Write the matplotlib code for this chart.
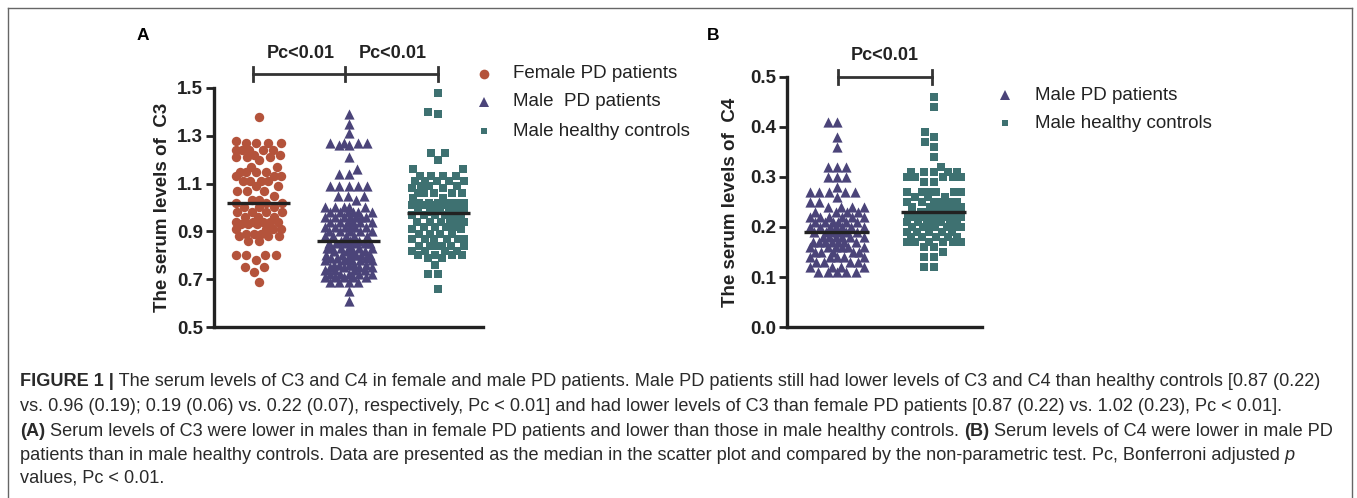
import numpy as np
import matplotlib
matplotlib.use("Agg")
import matplotlib.pyplot as plt
from matplotlib.lines import Line2D

plt.rcParams["font.family"] = ["Liberation Sans", "DejaVu Sans"]

# ── Data (value levels and how many points sit at each) ──
c3_female_lv = [1.38, 1.28, 1.27, 1.24, 1.22, 1.21, 1.20, 1.17, 1.15, 1.13, 1.11, 1.09, 1.07,
                1.05, 1.03, 1.02, 1.00, 0.98, 0.96, 0.94, 0.93, 0.91, 0.89, 0.88, 0.86,
                0.80, 0.78, 0.75, 0.73, 0.69]
c3_female_n  = [1, 1, 4, 5, 2, 3, 1, 2, 4, 3, 4, 2, 3,
                1, 2, 3, 3, 4, 3, 5, 3, 4, 3, 3, 2,
                4, 1, 2, 1, 1]

c3_male_lv = [1.39, 1.35, 1.31, 1.27, 1.26, 1.21, 1.16, 1.14, 1.09, 1.05, 1.03, 1.00, 0.98,
              0.96, 0.94, 0.92, 0.90, 0.88, 0.86, 0.85, 0.83, 0.82, 0.80, 0.79, 0.78,
              0.76, 0.75, 0.74, 0.72, 0.71, 0.69, 0.65, 0.61]
c3_male_n  = [1, 1, 1, 4, 2, 1, 1, 2, 5, 3, 1, 5, 6,
              7, 6, 6, 5, 5, 3, 6, 6, 4, 6, 4, 5,
              5, 4, 4, 5, 5, 4, 1, 1]

c3_ctrl_lv = [1.48, 1.40, 1.39, 1.23, 1.20, 1.16, 1.13, 1.11, 1.09, 1.08, 1.06, 1.04, 1.02,
              1.01, 0.99, 0.98, 0.97, 0.94, 0.92, 0.91, 0.89, 0.87, 0.84, 0.82, 0.80,
              0.79, 0.76, 0.72, 0.66]
c3_ctrl_n  = [1, 1, 1, 2, 1, 2, 4, 5, 3, 2, 5, 2, 6,
              6, 6, 1, 6, 6, 4, 2, 4, 6, 6, 4, 4,
              2, 1, 2, 1]

c4_male_lv = [0.41, 0.38, 0.36, 0.32, 0.30, 0.28, 0.27, 0.26, 0.25, 0.24, 0.23, 0.22, 0.21,
              0.20, 0.19, 0.18, 0.17, 0.16, 0.15, 0.14, 0.13, 0.12, 0.11]
c4_male_n  = [2, 1, 1, 3, 3, 1, 5, 1, 2, 4, 4, 6, 6,
              7, 6, 6, 7, 6, 5, 5, 4, 4, 5]

c4_ctrl_lv = [0.46, 0.44, 0.39, 0.38, 0.37, 0.36, 0.34, 0.32, 0.31, 0.30, 0.29, 0.27, 0.26,
              0.25, 0.24, 0.23, 0.22, 0.21, 0.20, 0.19, 0.18, 0.17, 0.16, 0.15, 0.14, 0.12]
c4_ctrl_n  = [1, 1, 1, 1, 1, 1, 1, 1, 5, 5, 2, 6, 3,
              6, 6, 6, 9, 7, 7, 5, 5, 6, 2, 1, 2, 2]

C_FEMALE = "#b4533b"
C_MALE   = "#4b4479"
C_CTRL   = "#3e7171"
C_LINE   = "#222222"

# name, values, colour, marker, size, gap px, half width px
groups_a = [
    ("Female PD patients",    np.repeat(c3_female_lv, c3_female_n), C_FEMALE, "o", 46, 10.5, 23),
    ("Male  PD patients",     np.repeat(c3_male_lv, c3_male_n),     C_MALE,   "^", 54, 9.5, 24),
    ("Male healthy controls", np.repeat(c3_ctrl_lv, c3_ctrl_n),     C_CTRL,   "s", 26, 10.0, 26),
]
groups_b = [
    ("Male PD patients",      np.repeat(c4_male_lv, c4_male_n),     C_MALE,   "^", 54, 9.5, 27),
    ("Male healthy controls", np.repeat(c4_ctrl_lv, c4_ctrl_n),     C_CTRL,   "s", 26, 10.0, 27),
]


def swarm(vals, ypx, gap, half):
    """Horizontal offsets (px): keep markers `gap` px apart inside +-half px,
    and let them overlap as little as possible where the group is too dense."""
    cand = np.arange(-half, half + 0.01, 0.5)
    order = np.argsort(vals)
    px, py = [], []
    xs = np.zeros(len(vals))
    for i in order:
        y = vals[i] * ypx
        d = np.full(len(cand), np.inf)
        if px:
            ax_ = np.array(px)
            ay_ = np.array(py)
            m = np.abs(ay_ - y) < gap
            if m.any():
                d = np.sqrt((cand[:, None] - ax_[m][None, :]) ** 2 + (y - ay_[m][None, :]) ** 2).min(axis=1)
        ok = d >= gap
        if ok.any():
            idx = np.where(ok)[0]
        else:
            idx = np.where(d >= d.max() - 0.25)[0]
        c = cand[idx[np.argmin(np.abs(cand[idx]))]]
        px.append(c)
        py.append(y)
        xs[i] = c
    return xs


W, H = 1357, 498
fig = plt.figure(figsize=(W / 100, H / 100), dpi=100)


def style_axes(ax):
    for s in ["top", "right"]:
        ax.spines[s].set_visible(False)
    for s in ["left", "bottom"]:
        ax.spines[s].set_linewidth(2.4)
        ax.spines[s].set_color(C_LINE)
    ax.tick_params(axis="y", length=6, width=2, color=C_LINE, labelsize=13.5, pad=2)
    ax.tick_params(axis="x", length=0, labelbottom=False)
    for t in ax.get_yticklabels():
        t.set_fontweight("bold")
        t.set_color(C_LINE)


def draw_groups(ax, groups, ypx, xpx, half):
    for i, (name, vals, col, mk, size, gap, hw) in enumerate(groups, start=1):
        off = swarm(vals, ypx, gap, hw) / xpx
        ax.scatter(i + off, vals, s=size, marker=mk, color=col, linewidths=0, zorder=2)
        ax.hlines(np.median(vals), i - half, i + half, color=C_LINE, lw=2.4, zorder=3)


def bracket(ax, x0, x1, y, tick, mids=()):
    tr = ax.get_xaxis_transform()
    kw = dict(color="#333333", lw=2, transform=tr, clip_on=False)
    ax.plot([x0, x1], [y, y], **kw)
    for x in (x0, x1) + tuple(mids):
        ax.plot([x, x], [y - tick, y + tick], **kw)


def legend(groups, mx, tx, ys):
    for (name, vals, col, mk, size, gap, hw), y in zip(groups, ys):
        fig.add_artist(Line2D([mx / W], [1 - y / H], marker=mk, color=col, ms=7 if mk != "s" else 5,
                              mew=0, ls="none", transform=fig.transFigure))
        fig.text(tx / W, 1 - y / H, name, fontsize=13.5, va="center", ha="left", color="#222222")


# ── Panel A ───────────────────────────────────────────────────────────────────
axA = fig.add_axes([214 / W, 1 - 327 / H, 269 / W, 239 / H])
axA.set_xlim(0.5, 3.5)
axA.set_ylim(0.5, 1.5)
axA.set_yticks([0.5, 0.7, 0.9, 1.1, 1.3, 1.5])
axA.set_yticklabels(["0.5", "0.7", "0.9", "1.1", "1.3", "1.5"])
draw_groups(axA, groups_a, 239, 89.7, 0.35)
style_axes(axA)
axA.set_ylabel("The serum levels of  C3", fontsize=13.5, fontweight="bold", color=C_LINE)
axA.yaxis.set_label_coords(-43 / 269, 0.5)
bracket(axA, 0.94, 3.0, 1 + 14 / 239, 7 / 239, mids=(1.96,))
for xc in (1.47, 2.49):
    axA.text(xc, 1 + 34 / 239, "Pc<0.01", transform=axA.get_xaxis_transform(), ha="center",
             va="center", fontsize=13, fontweight="bold", color=C_LINE)
legend(groups_a, 484, 513, [74, 102, 131])
fig.text(143 / W, 1 - 35 / H, "A", fontsize=12.5, fontweight="bold", va="center", ha="center")

# ── Panel B ───────────────────────────────────────────────────────────────────
axB = fig.add_axes([787 / W, 1 - 327 / H, 195 / W, 250 / H])
axB.set_xlim(0.485, 2.495)
axB.set_ylim(0.0, 0.5)
axB.set_yticks([0.0, 0.1, 0.2, 0.3, 0.4, 0.5])
axB.set_yticklabels(["0.0", "0.1", "0.2", "0.3", "0.4", "0.5"])
draw_groups(axB, groups_b, 500, 97.5, 0.335)
style_axes(axB)
axB.set_ylabel("The serum levels of  C4", fontsize=13.5, fontweight="bold", color=C_LINE)
axB.yaxis.set_label_coords(-48 / 195, 0.5)
bracket(axB, 1.01, 1.98, 1.0, 7 / 250)
axB.text(1.495, 1 + 21 / 250, "Pc<0.01", transform=axB.get_xaxis_transform(), ha="center",
         va="center", fontsize=13, fontweight="bold", color=C_LINE)
legend(groups_b, 1005, 1035, [95, 123])
fig.text(713 / W, 1 - 35 / H, "B", fontsize=12.5, fontweight="bold", va="center", ha="center")

# ── Caption ───────────────────────────────────────────────────────────────────
caption = [
    [("FIGURE 1 |", "bold", "normal"),
     (" The serum levels of C3 and C4 in female and male PD patients. Male PD patients still had lower "
      "levels of C3 and C4 than healthy controls [0.87 (0.22)", "normal", "normal")],
    [("vs. 0.96 (0.19); 0.19 (0.06) vs. 0.22 (0.07), respectively, Pc < 0.01] and had lower levels of C3 "
      "than female PD patients [0.87 (0.22) vs. 1.02 (0.23), Pc < 0.01].", "normal", "normal")],
    [("(A)", "bold", "normal"),
     (" Serum levels of C3 were lower in males than in female PD patients and lower than those in male "
      "healthy controls. ", "normal", "normal"),
     ("(B)", "bold", "normal"),
     (" Serum levels of C4 were lower in male PD", "normal", "normal")],
    [("patients than in male healthy controls. Data are presented as the median in the scatter plot and "
      "compared by the non-parametric test. Pc, Bonferroni adjusted ", "normal", "normal"),
     ("p", "normal", "italic")],
    [("values, Pc < 0.01.", "normal", "normal")],
]
cap_y = [381, 406, 431, 455, 478]
renderer = fig.canvas.get_renderer()


def draw_runs(x0, y, runs, size):
    x = x0
    arts = []
    for txt, wt, st in runs:
        t = fig.text(x / W, 1 - y / H, txt, fontsize=size, fontweight=wt, fontstyle=st,
                     va="center", ha="left", color="#2a2a2a")
        bb = t.get_window_extent(renderer)
        x += bb.width
        arts.append(t)
    return x, arts


end, tmp = draw_runs(20, cap_y[2], caption[2], 12)
for t in tmp:
    t.remove()
cap_size = 12 * (1340 - 20) / (end - 20)
for runs, y in zip(caption, cap_y):
    draw_runs(20, y, runs, cap_size)

# frame round the whole figure (the bottom edge is cut off in the reference)
xl, xr, yt = 8 / W, 1352 / W, 1 - 8 / H
for xs_, ys_ in [([xl, xl], [0, yt]), ([xl, xr], [yt, yt]), ([xr, xr], [yt, 0])]:
    fig.add_artist(Line2D(xs_, ys_, color="#666666", lw=1, transform=fig.transFigure))

fig.savefig("out.png", dpi=100)
